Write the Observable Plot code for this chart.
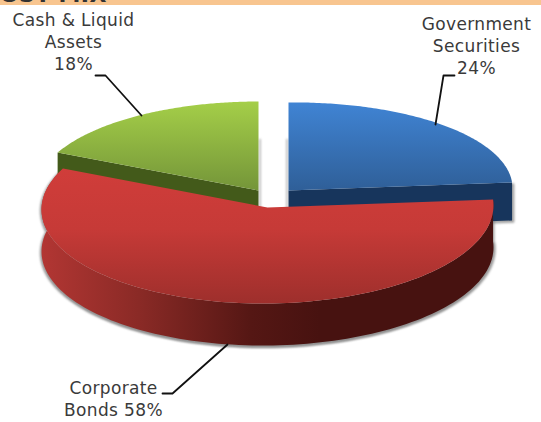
<!DOCTYPE html>
<html>
<head>
<meta charset="utf-8">
<script src="https://cdn.jsdelivr.net/npm/d3@7"></script>
<script src="https://cdn.jsdelivr.net/npm/@observablehq/plot@0.6"></script>
<style>html,body{margin:0;padding:0;background:#fff;overflow:hidden}svg{display:block}svg text{letter-spacing:.35px}</style>
</head>
<body>
<script>
// Data
const categories = ["Government Securities", "Corporate Bonds", "Cash & Liquid Assets"];
const values = [24, 58, 18];
const labelLines = [
  ["Government", "Securities", "24%"],
  ["Corporate", "Bonds 58%"],
  ["Cash & Liquid", "Assets", "18%"]
];
const headerText = "COST MIX";

// Layout of the exploded, tilted pie on the page
const W = 541, H = 422;
const geometry = [
  {cx: 288, cy: 190, rx: 224, ry: 88, tilt: 0.011, depth: 38},
  {cx: 267, cy: 207, rx: 226, ry: 96, tilt: 0.009, depth: 42},
  {cx: 258, cy: 190, rx: 222, ry: 89, tilt: 0, depth: 38}
];
const labelAnchors = [
  {x: 476, y: 24}, {x: 113, y: 388}, {x: 73, y: 20}
];
const leaders = [
  [[454, 75], [443, 75], [435, 124]],
  [[162, 393], [172, 393], [227, 344]],
  [[95, 75], [105, 75], [141, 115]]
];

// Pie angles come from the values
const arcs = d3.pie().sort(null).value(d => d)(values);
const project = (g, a) => {
  const x = g.cx + g.rx * Math.sin(a);
  return [x, g.cy - g.ry * Math.cos(a) - g.tilt * (x - g.cx)];
};
const arcPoints = (g, a0, a1) => d3.range(0, 121).map(i => project(g, a0 + (a1 - a0) * i / 120));
const drop = (pts, d) => pts.map(([x, y]) => [x, y + d]);
const tops = arcs.map((a, i) => {
  const g = geometry[i];
  return [[g.cx, g.cy], ...arcPoints(g, a.startAngle, a.endAngle)];
});
const outer = arcs.map((a, i) => arcPoints(geometry[i], a.startAngle, a.endAngle));
// chord faces of the blue and green slices
const bluePts = tops[0], greenPts = tops[2];
const blueEdge = bluePts[bluePts.length - 1], greenEdge = greenPts[1];
const apexBlue = bluePts[0], apexGreen = greenPts[0];
const blueSide = [apexBlue, blueEdge, [blueEdge[0], blueEdge[1] + geometry[0].depth], [apexBlue[0], apexBlue[1] + geometry[0].depth]];
const greenSide = [apexGreen, greenEdge, [greenEdge[0], greenEdge[1] + geometry[2].depth], [apexGreen[0], apexGreen[1] + geometry[2].depth]];
// outer wall of the red slice
const redFront = outer[1];
const redSide = [...redFront, ...drop(redFront, geometry[1].depth).reverse()];

const gradient = (id, x1, y1, x2, y2, stops) => `<linearGradient id="${id}" gradientUnits="userSpaceOnUse" x1="${x1}" y1="${y1}" x2="${x2}" y2="${y2}">${stops.map(([o, c]) => `<stop offset="${o}" stop-color="${c}"/>`).join("")}</linearGradient>`;
const defs = () => {
  const g = document.createElementNS("http://www.w3.org/2000/svg", "g");
  g.innerHTML = "<defs>" +
    gradient("blueTop", 0, 102, 0, 190, [[0, "#4084d4"], [1, "#2f5f98"]]) +
    gradient("greenTop", 0, 102, 0, 190, [[0, "#a4ce48"], [1, "#749539"]]) +
    gradient("redTop", 0, 168, 0, 303, [[0, "#d03d3a"], [0.45, "#c63a37"], [1, "#9e2f2c"]]) +
    gradient("redWall", 41, 0, 320, 0, [[0, "#b23633"], [0.35, "#8a2a26"], [0.75, "#551714"], [1, "#471210"]]) +
    "</defs>";
  return g;
};

const poly = (pts, fill, opts = {}) => Plot.line(pts, {x: d => d[0], y: d => d[1], fill, stroke: "none", ...opts});
const shadow = (pts, dx, dy) => Plot.line(pts, {
  x: d => d[0] + dx, y: d => d[1] + dy, fill: "#888", stroke: "#888", strokeWidth: 1.5, fillOpacity: 0.7, strokeOpacity: 0.7, imageFilter: "blur(1px)"
});

const labelRows = labelLines.flatMap((lines, i) => lines.map((text, j) => ({
  text, x: labelAnchors[i].x, y: labelAnchors[i].y + j * 22, category: categories[i]
})));

const chart = Plot.plot({
  width: W, height: H,
  margin: 0,
  x: {domain: [0, W], range: [0, W], axis: null},
  y: {domain: [0, H], range: [0, H], axis: null},
  style: {background: "#fff", fontFamily: "'DejaVu Sans', sans-serif"},
  marks: [
    defs,
    Plot.rect([0], {x1: 0, x2: W, y1: 0, y2: 5, fill: "#f8c58f"}),
    Plot.text([headerText], {x: 0, y: 1.8, text: d => d, textAnchor: "start", lineAnchor: "bottom", fontSize: 22, fontWeight: "bold", fill: "#333", dx: -17}),
    // shadows
    shadow([...blueSide, [blueEdge[0], blueEdge[1]]], 1.5, 1.5),
    shadow([[geometry[0].cx, 139], [geometry[0].cx, geometry[0].cy + geometry[0].depth - 10]], -1.5, 0),
    shadow([[geometry[2].cx, 139], [geometry[2].cx, geometry[2].cy + geometry[2].depth - 10]], 1.5, 0),
    shadow(redSide, -1, 1.5),
    shadow(redSide, 1.5, 1.5),
    // blue and green slices
    poly(blueSide, "#17355c"),
    poly(tops[0], "url(#blueTop)"),
    poly(greenSide, "#435a1a"),
    poly(tops[2], "url(#greenTop)"),
    // red slice on top
    poly(redSide, "url(#redWall)"),
    poly(tops[1], "url(#redTop)"),
    // leaders
    ...leaders.map(l => Plot.line(l, {x: d => d[0], y: d => d[1], stroke: "#111", strokeWidth: 1.8, strokeLinejoin: "round"})),
    // labels
    Plot.text(labelRows, {x: "x", y: "y", text: "text", fontSize: 17, fill: "#3a3a3a", textAnchor: "middle"})
  ]
});
document.body.appendChild(chart);
</script>
</body>
</html>
